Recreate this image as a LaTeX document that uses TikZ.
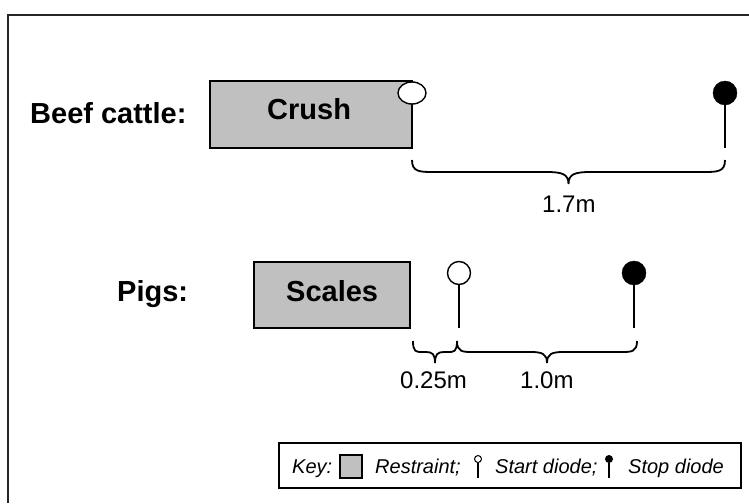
\documentclass[tikz,border=0pt]{standalone}
\usepackage{fontspec}
\usetikzlibrary{shapes.geometric}
\setmainfont{Liberation Sans}
\definecolor{restraintgray}{HTML}{C0C0C0}
\tikzset{
  lbl/.style={anchor=base west, inner sep=0pt, font=\fontsize{29}{30}\selectfont\bfseries},
  dim/.style={anchor=base west, inner sep=0pt, font=\fontsize{24}{26}\selectfont},
  keytxt/.style={anchor=base west, inner sep=0pt, font=\fontsize{20}{22}\selectfont\itshape},
  restraint/.style={draw, line width=1.5pt, fill=restraintgray},
  startdiode/.style={circle, draw, line width=1.4pt, fill=white, inner sep=0pt, minimum size=23pt},
  stopdiode/.style={circle, draw, fill=black, inner sep=0pt, minimum size=24pt},
  stem/.style={line width=1.6pt},
  bracepath/.style={line width=1.8pt},
}
% horizontal brace opening upwards:
% #1 left x, #2 right x, #3 top y, #4 middle y, #5 tip y, #6 curl width
\newcommand\dimbrace[6]{%
  \pgfmathsetmacro\bmid{(#1+#2)/2}
  \draw[bracepath] (#1,#3) .. controls (#1,#4) and (#1+#6*0.35,#4) .. (#1+#6,#4)
    -- (\bmid-#6,#4) .. controls (\bmid-#6*0.3,#4) and (\bmid,#4+2) .. (\bmid,#5)
    .. controls (\bmid,#4+2) and (\bmid+#6*0.3,#4) .. (\bmid+#6,#4)
    -- (#2-#6,#4) .. controls (#2-#6*0.35,#4) and (#2,#4) .. (#2,#3);
}
\begin{document}
\begin{tikzpicture}[x=1pt,y=-1pt]
\useasboundingbox (0,0) rectangle (749,503);

% outer frame (open to the right and bottom)
\draw[line width=2.8pt, black!85] (8,503) -- (8,15) -- (749,15);

% beef cattle row
\node[lbl] (beef) at (30,123) {Beef cattle:};
\draw[restraint] (210,81) rectangle (412,148);
\node[lbl] (crush) at (267,119) {Crush};
\node[ellipse, draw, line width=1.4pt, fill=white, inner sep=0pt, minimum width=28pt, minimum height=22pt] (bstart) at (412,93) {};
\coordinate (bstartfoot) at (412,148);
\draw[stem] (bstart.south) -- (bstartfoot);
\node[stopdiode] (bstop) at (725,93) {};
\coordinate (bstopfoot) at (725,148);
\draw[stem] (bstop.south) -- (bstopfoot);
\dimbrace{412}{725}{160}{172}{184}{22}
\node[dim] (d17) at (542,212) {1.7m};

% pig row
\node[lbl] (pigs) at (117,301) {Pigs:};
\draw[restraint] (254,262) rectangle (410,328);
\node[lbl] (scales) at (286,301) {Scales};
\node[startdiode] (pstart) at (459,273) {};
\coordinate (pstartfoot) at (459,328);
\draw[stem] (pstart.south) -- (pstartfoot);
\node[stopdiode] (pstop) at (634,273) {};
\coordinate (pstopfoot) at (634,328);
\draw[stem] (pstop.south) -- (pstopfoot);
\dimbrace{413}{457}{341}{352}{363}{9}
\dimbrace{457}{637}{341}{352}{363}{16}
\node[dim] (d025) at (400,388) {0.25m};
\node[dim] (d10) at (520,388) {1.0m};

% key
\draw[line width=1.3pt] (279,443) rectangle (741,488);
\node[keytxt] (keylbl) at (292,473) {Key:};
\draw[line width=1.3pt, fill=restraintgray] (340,455) rectangle (362,478);
\node[keytxt] (krest) at (375,473) {Restraint;};
\node[circle, draw, line width=1pt, fill=white, inner sep=0pt, minimum size=7pt] (kstart) at (478,459) {};
\coordinate (kstartfoot) at (478,478);
\draw[line width=1.3pt] (kstart.south) -- (kstartfoot);
\node[keytxt] (kstarttxt) at (495,473) {Start diode;};
\node[circle, fill=black, inner sep=0pt, minimum size=8pt] (kstop) at (609,459) {};
\coordinate (kstopfoot) at (609,478);
\draw[line width=1.3pt] (kstop.south) -- (kstopfoot);
\node[keytxt] (kstoptxt) at (628,473) {Stop diode};
\end{tikzpicture}
\end{document}
